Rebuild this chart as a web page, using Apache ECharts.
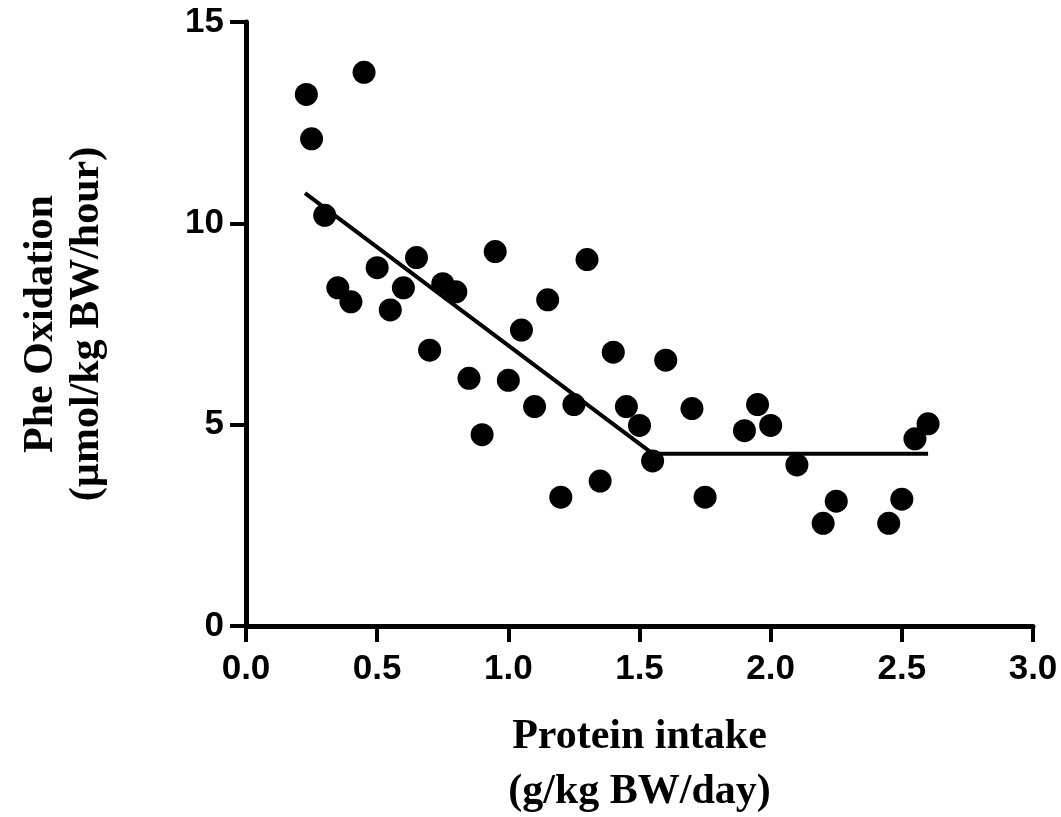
<!DOCTYPE html>
<html>
<head>
<meta charset="utf-8">
<script src="https://cdn.jsdelivr.net/npm/echarts@6/dist/echarts.min.js"></script>
<style>
html,body{margin:0;padding:0;background:#fff;}
#chart{width:1061px;height:817px;}
</style>
</head>
<body>
<div id="chart"></div>
<script>
// Observed data points (protein intake, Phe oxidation)
const proteinIntake = [0.23, 0.25, 0.45, 0.30, 0.35, 0.40, 0.50, 0.55, 0.60, 0.65, 0.70, 0.75, 0.80, 0.85, 0.90, 0.95, 1.00, 1.05, 1.10, 1.15, 1.20, 1.25, 1.30, 1.35, 1.40, 1.45, 1.50, 1.55, 1.60, 1.70, 1.75, 1.90, 1.95, 2.00, 2.10, 2.20, 2.25, 2.45, 2.50, 2.55, 2.60];
const pheOxidation = [13.2, 12.1, 13.75, 10.2, 8.4, 8.05, 8.9, 7.85, 8.4, 9.15, 6.85, 8.5, 8.3, 6.15, 4.75, 9.3, 6.1, 7.35, 5.45, 8.1, 3.2, 5.5, 9.1, 3.6, 6.8, 5.45, 4.98, 4.1, 6.6, 5.4, 3.2, 4.85, 5.5, 4.98, 4.0, 2.55, 3.1, 2.55, 3.15, 4.65, 5.02];
// Two-phase linear regression (breakpoint) line
const fitX = [0.225, 1.55, 2.60];
const fitY = [10.75, 4.28, 4.28];
// Axis ticks
const xTicks = [0.0, 0.5, 1.0, 1.5, 2.0, 2.5, 3.0];
const yTicks = [0, 5, 10, 15];

const scatterData = proteinIntake.map((x, i) => [x, pheOxidation[i]]);
const fitData = fitX.map((x, i) => [x, fitY[i]]);

const chart = echarts.init(document.getElementById('chart'));
const serif = '"Liberation Serif", "DejaVu Serif", serif';
const sans = '"Liberation Sans", Arial, sans-serif';
chart.setOption({
  animation: false,
  backgroundColor: '#fff',
  grid: {left: 246, right: 28, top: 22, bottom: 191, containLabel: false, outerBoundsMode: 'none'},
  xAxis: {
    type: 'value', min: xTicks[0], max: xTicks[xTicks.length - 1], interval: 0.5,
    name: 'Protein intake\n(g/kg BW/day)',
    nameLocation: 'middle', nameGap: 84,
    nameTextStyle: {fontFamily: serif, fontWeight: 'bold', fontSize: 42, color: '#000', lineHeight: 55},
    axisLine: {lineStyle: {color: '#000', width: 5}},
    axisTick: {length: 16, lineStyle: {color: '#000', width: 4}},
    axisLabel: {formatter: v => v.toFixed(1), fontFamily: sans, fontWeight: 'bold', fontSize: 35, color: '#000', margin: 26},
    splitLine: {show: false}
  },
  yAxis: {
    type: 'value', min: yTicks[0], max: yTicks[yTicks.length - 1], interval: 5,
    name: 'Phe Oxidation\n(µmol/kg BW/hour)',
    nameLocation: 'middle', nameGap: 136, nameRotate: 90,
    nameTextStyle: {fontFamily: serif, fontWeight: 'bold', fontSize: 42, color: '#000', lineHeight: 46},
    axisLine: {show: true, lineStyle: {color: '#000', width: 5}},
    axisTick: {show: true, length: 16, lineStyle: {color: '#000', width: 4}},
    axisLabel: {fontFamily: sans, fontWeight: 'bold', fontSize: 35, color: '#000', margin: 22},
    splitLine: {show: false}
  },
  series: [
    {
      type: 'line', data: fitData, symbol: 'none',
      lineStyle: {color: '#000', width: 4}, z: 3
    },
    {
      type: 'scatter', data: scatterData, symbol: 'circle', symbolSize: 23,
      itemStyle: {color: '#000', opacity: 1}, z: 4
    }
  ]
});
</script>
</body>
</html>
